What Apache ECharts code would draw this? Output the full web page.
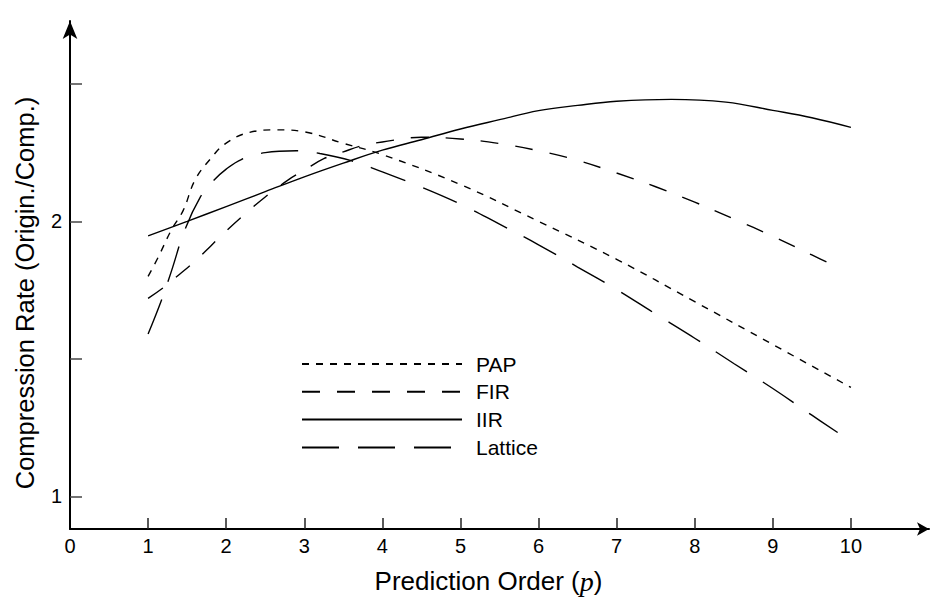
<!DOCTYPE html>
<html>
<head>
<meta charset="utf-8">
<title>Compression Rate vs Prediction Order</title>
<script src="https://cdn.jsdelivr.net/npm/echarts@6/dist/echarts.min.js"></script>
<style>
  html, body { margin: 0; padding: 0; background: #fff; }
  #chart { width: 934px; height: 600px; }
</style>
</head>
<body>
<div id="chart"></div>
<script>
// values
const xTicks = [1, 2, 3, 4, 5, 6, 7, 8, 9, 10]
const xLabels = [0, 1, 2, 3, 4, 5, 6, 7, 8, 9, 10]
const yTicks = [1, 1.5, 2, 2.5]
const yLabels = [1, 2]

const papX = [1, 1.13, 1.3, 1.45, 1.6, 1.8, 2, 2.3, 2.65, 3, 3.5, 4, 5, 6, 7, 8, 9, 10]
const papY = [1.80, 1.87, 1.97, 2.04, 2.15, 2.228, 2.285, 2.324, 2.333, 2.326, 2.284, 2.243, 2.134, 2.00, 1.862, 1.708, 1.552, 1.396]

const firX = [1, 1.2, 1.4, 1.6, 1.8, 2, 2.25, 2.5, 2.8, 3, 3.25, 3.5, 3.75, 4, 4.5, 5, 5.5, 6, 6.5, 7, 7.5, 8, 8.5, 9, 9.5, 9.82]
const firY = [1.72, 1.76, 1.807, 1.855, 1.91, 1.965, 2.029, 2.089, 2.152, 2.186, 2.228, 2.253, 2.276, 2.289, 2.306, 2.30, 2.283, 2.257, 2.222, 2.176, 2.126, 2.07, 2.009, 1.946, 1.878, 1.834]

const iirX = [1, 1.5, 2, 2.5, 3, 3.5, 4, 4.5, 5, 5.5, 6, 6.5, 7, 7.7, 8.4, 9, 9.5, 10]
const iirY = [1.947, 2.0, 2.054, 2.108, 2.162, 2.212, 2.259, 2.297, 2.336, 2.370, 2.403, 2.422, 2.437, 2.444, 2.434, 2.404, 2.377, 2.342]

const latX = [1, 1.17, 1.3, 1.47, 1.67, 1.83, 2, 2.2, 2.5, 2.9, 3.2, 3.6, 4, 4.5, 5, 5.5, 6, 6.5, 7, 7.5, 8, 8.5, 9, 9.5, 9.83]
const latY = [1.59, 1.712, 1.82, 1.969, 2.089, 2.146, 2.19, 2.226, 2.25, 2.257, 2.247, 2.221, 2.18, 2.125, 2.063, 1.99, 1.915, 1.834, 1.752, 1.663, 1.575, 1.483, 1.392, 1.295, 1.232]

function pairs (xs, ys) {
  return xs.map(function (x, i) { return [x, ys[i]] })
}

const font = 'Liberation Sans, Arial, sans-serif'
const chart = echarts.init(document.getElementById('chart'), null, { renderer: 'svg' })

function curve (name, xs, ys, dash) {
  return {
    name: name,
    type: 'line',
    data: pairs(xs, ys),
    symbol: 'none',
    smooth: 0.4,
    lineStyle: { color: '#000', width: 1.4, type: dash },
    itemStyle: { color: '#000' }
  }
}

const option = {
  animation: false,
  backgroundColor: '#fff',
  grid: { left: 70, right: 5, top: 21, bottom: 67, containLabel: false },
  legend: {
    orient: 'vertical',
    left: 296,
    top: 348,
    itemWidth: 160,
    itemHeight: 14,
    itemGap: 5.8,
    itemStyle: { opacity: 0, color: 'rgba(0,0,0,0)', borderWidth: 0 },
    textStyle: { fontFamily: font, fontSize: 21, color: '#000', lineHeight: 22, padding: [0, 0, 0, 9] },
    data: ['PAP', 'FIR', 'IIR', 'Lattice']
  },
  xAxis: {
    type: 'value',
    min: 0,
    max: 11,
    name: '{n|Prediction Order (}{p|p}{n|)}',
    nameLocation: 'middle',
    nameGap: 38,
    nameTextStyle: {
      padding: [0, 22, 0, 0],
      rich: {
        n: { fontFamily: font, fontSize: 26, color: '#000' },
        p: { fontFamily: 'Liberation Serif, serif', fontStyle: 'italic', fontSize: 28, color: '#000' }
      }
    },
    axisLine: { lineStyle: { color: '#000', width: 2 }, symbol: ['none', 'arrow'], symbolSize: [10, 12] },
    axisTick: { inside: true, length: 11, customValues: xTicks, lineStyle: { color: '#222', width: 1.5 } },
    axisLabel: { customValues: xLabels, margin: 7, fontFamily: font, fontSize: 20, color: '#000' },
    splitLine: { show: false }
  },
  yAxis: {
    type: 'value',
    min: 0.881,
    max: 2.729,
    name: 'Compression Rate (Origin./Comp.)',
    nameLocation: 'middle',
    nameGap: 32,
    nameTextStyle: { fontFamily: font, fontSize: 25.5, color: '#000', padding: [0, 36, 0, 0] },
    axisLine: { lineStyle: { color: '#000', width: 2 }, symbol: ['none', 'arrow'], symbolSize: [11, 18] },
    axisTick: { inside: true, length: 12, customValues: yTicks, lineStyle: { color: '#444', width: 1.5 } },
    axisLabel: { customValues: yLabels, margin: 8, fontFamily: font, fontSize: 20, color: '#000' },
    splitLine: { show: false }
  },
  series: [
    curve('PAP', papX, papY, [7, 7]),
    curve('FIR', firX, firY, [18, 17]),
    curve('IIR', iirX, iirY, 'solid'),
    curve('Lattice', latX, latY, [37, 19])
  ]
}
chart.setOption(option)
</script>
</body>
</html>
